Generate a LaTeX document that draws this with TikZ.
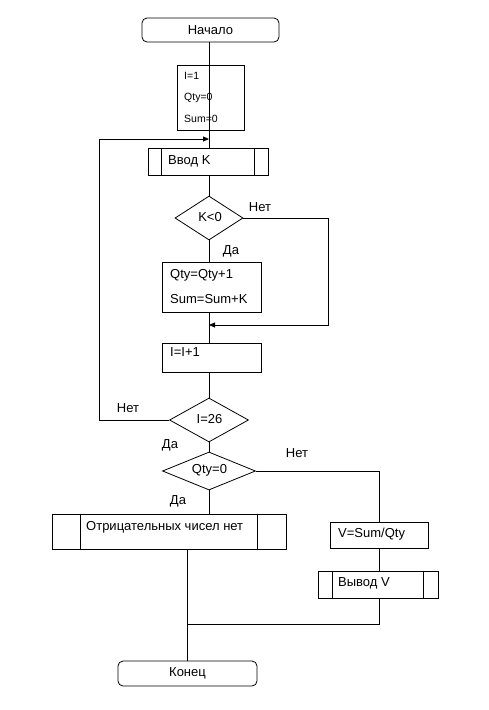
\documentclass[tikz,border=0pt]{standalone}
\usepackage{fontspec}
\setmainfont{Liberation Sans}
\usetikzlibrary{shapes.geometric,arrows.meta,calc}
\begin{document}
\begin{tikzpicture}[x=1pt,y=-1pt,
  every node/.style={font=\fontsize{13}{15}\selectfont},
  line/.style={draw=black,line width=0.8pt},
  arr/.style={line,-{Triangle[length=6pt,width=5pt]}},
  term/.style={draw,line width=0.8pt,rounded corners=5pt,inner sep=0pt},
  box/.style={draw,line width=0.8pt,inner sep=0pt},
  dia/.style={draw,line width=0.8pt,diamond,inner sep=0pt},
  txt/.style={inner sep=0pt,anchor=west},
  lbl/.style={inner sep=0pt}]
\useasboundingbox (0,0) rectangle (489,710);
% nodes
\node[term,minimum width=137pt,minimum height=24pt] (start) at (210.5,30) {};
\node[lbl] (tstart) at (210.5,30) {Начало};
\node[box,minimum width=67pt,minimum height=65pt] (init) at (210.5,97.5) {};
\node[txt,font=\fontsize{10.5}{12}\selectfont] (t1) at (184,76) {I=1};
\node[txt,font=\fontsize{10.5}{12}\selectfont] (t2) at (184,98) {Qty=0};
\node[txt,font=\fontsize{10.5}{12}\selectfont] (t3) at (184,119) {Sum=0};
\node[box,minimum width=120pt,minimum height=27pt] (inp) at (208,161.5) {};
\node[txt] (tinp) at (168,161) {Ввод K};
\node[dia,minimum width=68pt,minimum height=44pt] (k0) at (209,218) {};
\node[lbl] (tk0) at (210,217) {K<0};
\node[box,minimum width=99pt,minimum height=50pt] (add) at (211.5,287) {};
\node[txt] (ta1) at (170,275) {Qty=Qty+1};
\node[txt] (ta2) at (170,299) {Sum=Sum+K};
\node[box,minimum width=99pt,minimum height=29pt] (inc) at (211.5,357.5) {};
\node[txt] (tinc) at (170,352) {I=I+1};
\node[dia,minimum width=79pt,minimum height=44pt] (i26) at (209,420) {};
\node[lbl] (ti26) at (209.5,419) {I=26};
\node[dia,minimum width=93pt,minimum height=38pt] (q0) at (209,471) {};
\node[lbl] (tq0) at (209.5,470) {Qty=0};
\node[box,minimum width=234pt,minimum height=35pt] (neg) at (169,531.5) {};
\node[txt] (tneg) at (86,527) {Отрицательных чисел нет};
\node[box,minimum width=98pt,minimum height=26pt] (v) at (379,535) {};
\node[txt] (tv) at (338,534) {V=Sum/Qty};
\node[box,minimum width=120pt,minimum height=27pt] (out) at (378,584.5) {};
\node[txt] (tout) at (338,583) {Вывод V};
\node[term,minimum width=139pt,minimum height=25pt] (end) at (187.5,673.5) {};
\node[lbl] (tend) at (187.5,673) {Конец};
% inner lines of predefined processes
\draw[line] ($(inp.north west)+(14,0)$) -- ($(inp.south west)+(14,0)$);
\draw[line] ($(inp.north east)+(-14,0)$) -- ($(inp.south east)+(-14,0)$);
\draw[line] ($(neg.north west)+(29,0)$) -- ($(neg.south west)+(29,0)$);
\draw[line] ($(neg.north east)+(-29,0)$) -- ($(neg.south east)+(-29,0)$);
\draw[line] ($(out.north west)+(15,0)$) -- ($(out.south west)+(15,0)$);
\draw[line] ($(out.north east)+(-15,0)$) -- ($(out.south east)+(-15,0)$);
% labels
\node[lbl] (n1) at (260,207) {Нет};
\node[lbl] (d1) at (231,251) {Да};
\node[lbl] (n2) at (128,408) {Нет};
\node[lbl] (d2) at (170,445) {Да};
\node[lbl] (n3) at (297,453) {Нет};
\node[lbl] (d3) at (178,501) {Да};
% coordinates
\coordinate (lpx) at (99,139);
\coordinate (lpend) at (209,139);
\coordinate (kx) at (328,218);
\coordinate (kmerge) at (209,325);
\coordinate (omerge) at (188,624);
% connectors
\draw[line] (start.south -| 209,0) -- (init.south -| 209,0);
\draw[line] (init.south -| 209,0) -- (inp.north -| 209,0);
\draw[arr] (i26.west) -| (lpx) -- (lpend);
\draw[line] (inp.south -| k0.north) -- (k0.north);
\draw[line] (k0.south) -- (add.north -| k0.south);
\draw[arr] (k0.east) -- (kx) |- (kmerge);
\draw[line] (add.south -| k0.south) -- (inc.north -| k0.south);
\draw[line] (inc.south -| i26.north) -- (i26.north);
\draw[line] (i26.south) -- (q0.north);
\draw[line] (q0.south) -- (neg.north -| q0.south);
\draw[line] (q0.east) -| (v.north);
\draw[line] (v.south) -- (out.north -| v.south);
\draw[line] (out.south -| v.south) |- (omerge);
\draw[line] (neg.south -| end.north) -- (end.north);
\end{tikzpicture}
\end{document}
